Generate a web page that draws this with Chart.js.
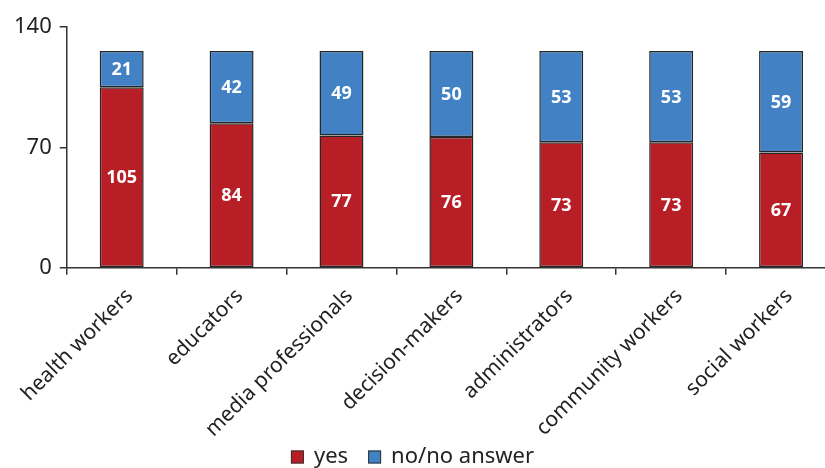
<!DOCTYPE html>
<html>
<head>
<meta charset="utf-8">
<script src="https://cdn.jsdelivr.net/npm/chart.js@4.4.0/dist/chart.umd.min.js"></script>
<style>
  html, body { margin: 0; padding: 0; background: #fff; }
  /* the last category runs a little past the visible right edge */
  #frame { width: 825px; height: 468px; overflow: hidden; }
  #wrap { width: 836px; height: 468px; }
</style>
</head>
<body>
<div id="frame"><div id="wrap"><canvas id="groupChart"></canvas></div></div>
<script>
// Professional groups and answer counts
const groups = ['health workers', 'educators', 'media professionals', 'decision-makers', 'administrators', 'community workers', 'social workers'];
const yesCounts = [105, 84, 77, 76, 73, 73, 67];
const noCounts = [21, 42, 49, 50, 53, 53, 59];
const yTicks = [0, 70, 140];

const FONT = '"Noto Sans", sans-serif';
const VISIBLE_WIDTH = 825;

// Write each segment's value in the middle of its bar
const barValues = {
    id: 'barValues',
    afterDatasetsDraw(chart) {
        const ctx = chart.ctx;
        ctx.save();
        ctx.fillStyle = '#fff';
        ctx.font = 'bold 18px ' + FONT;
        ctx.textAlign = 'center';
        ctx.textBaseline = 'middle';
        chart.data.datasets.forEach((ds, i) => {
            chart.getDatasetMeta(i).data.forEach((bar, j) => {
                const mid = (bar.y + bar.base) / 2;
                ctx.fillText(ds.data[j], bar.x, mid + 1);
            });
        });
        ctx.restore();
    }
};

// Legend along the bottom edge, centred on the visible area
const bottomLegend = {
    id: 'bottomLegend',
    afterDraw(chart) {
        const ctx = chart.ctx;
        const box = 13, gapText = 10, gapItem = 20;
        ctx.save();
        ctx.font = '22px ' + FONT;
        ctx.textBaseline = 'middle';
        const items = chart.data.datasets.map(ds => ({
            text: ds.label,
            color: ds.backgroundColor,
            w: ctx.measureText(ds.label).width
        }));
        let total = 0;
        items.forEach((it, i) => {
            total += box + gapText + it.w + (i < items.length - 1 ? gapItem : 0);
        });
        let x = VISIBLE_WIDTH / 2 - total / 2;
        const cy = 457;
        items.forEach(it => {
            ctx.fillStyle = it.color;
            ctx.fillRect(x, cy - box / 2, box, box);
            ctx.strokeStyle = '#333';
            ctx.lineWidth = 1;
            ctx.strokeRect(x + 0.5, cy - box / 2 + 0.5, box - 1, box - 1);
            ctx.fillStyle = '#222';
            ctx.fillText(it.text, x + box + gapText, cy);
            x += box + gapText + it.w + gapItem;
        });
        ctx.restore();
    }
};

const ctx = document.getElementById('groupChart').getContext('2d');
new Chart(ctx, {
    type: 'bar',
    data: {
        labels: groups,
        datasets: [{
            label: 'yes',
            data: yesCounts,
            backgroundColor: '#B81E26',
            borderColor: '#262626',
            borderWidth: 1.5,
            borderSkipped: false,
            barPercentage: 0.8,
            categoryPercentage: 0.5
        }, {
            label: 'no/no answer',
            data: noCounts,
            backgroundColor: '#4181C4',
            borderColor: '#262626',
            borderWidth: 1.5,
            borderSkipped: false,
            barPercentage: 0.8,
            categoryPercentage: 0.5
        }]
    },
    options: {
        responsive: true,
        maintainAspectRatio: false,
        animation: false,
        layout: { padding: { top: 27, right: 0, left: 6, bottom: 17 } },
        plugins: {
            legend: { display: false },
            tooltip: { enabled: false }
        },
        scales: {
            x: {
                stacked: true,
                border: { color: '#333', width: 1.5 },
                grid: { drawOnChartArea: false, tickLength: 7, color: '#333', lineWidth: 1.5, offset: true },
                ticks: {
                    color: '#222',
                    font: { family: FONT, size: 21 },
                    maxRotation: 45,
                    minRotation: 45,
                    padding: 9,
                    labelOffset: 8
                }
            },
            y: {
                stacked: true,
                min: 0,
                max: 140,
                afterBuildTicks(axis) {
                    axis.ticks = yTicks.map(v => ({ value: v }));
                },
                border: { color: '#333', width: 1.5 },
                grid: { drawOnChartArea: false, tickLength: 7, color: '#333', lineWidth: 1.5 },
                ticks: {
                    color: '#222',
                    font: { family: FONT, size: 22 },
                    padding: 8
                }
            }
        }
    },
    plugins: [barValues, bottomLegend]
});
</script>
</body>
</html>
